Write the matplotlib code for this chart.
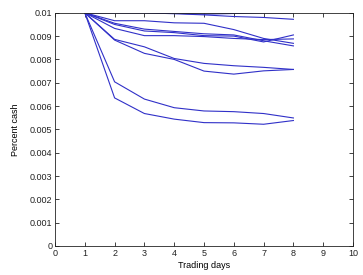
import matplotlib
matplotlib.use("Agg")
import matplotlib.pyplot as plt

days = [1, 2, 3, 4, 5, 6, 7, 8]

series_a = [0.0100, 0.0100, 0.0100, 0.00998, 0.00994, 0.00997, 0.0100, 0.0100]
series_b = [0.0100, 0.0100, 0.0100, 0.00996, 0.00991, 0.00984, 0.00980, 0.00972]
series_c = [0.0100, 0.00966, 0.00966, 0.00957, 0.00955, 0.00928, 0.00890, 0.00869]
series_d = [0.0100, 0.00955, 0.00930, 0.00920, 0.00910, 0.00905, 0.00880, 0.00858]
series_e = [0.0100, 0.00950, 0.00922, 0.00915, 0.00902, 0.00900, 0.00875, 0.00905]
series_f = [0.0100, 0.00933, 0.00902, 0.00902, 0.00898, 0.00890, 0.00885, 0.00888]
series_g = [0.0100, 0.00886, 0.00854, 0.00804, 0.00783, 0.00773, 0.00766, 0.00757]
series_h = [0.0100, 0.00883, 0.00826, 0.00800, 0.00750, 0.00737, 0.00751, 0.00757]
series_i = [0.0100, 0.00704, 0.00630, 0.00593, 0.00579, 0.00576, 0.00568, 0.00549]
series_j = [0.0100, 0.00635, 0.00568, 0.00544, 0.00529, 0.00528, 0.00522, 0.00538]

all_series = [series_a, series_b, series_c, series_d, series_e,
              series_f, series_g, series_h, series_i, series_j]

x_ticks = [0, 1, 2, 3, 4, 5, 6, 7, 8, 9, 10]
y_ticks = [0, 0.001, 0.002, 0.003, 0.004, 0.005, 0.006, 0.007, 0.008, 0.009, 0.01]
y_tick_labels = ["0", "0.001", "0.002", "0.003", "0.004", "0.005",
                 "0.006", "0.007", "0.008", "0.009", "0.01"]

plt.rcParams['font.family'] = ['Liberation Sans', 'DejaVu Sans']

fig = plt.figure(figsize=(3.63, 2.75), dpi=100)
ax = fig.add_axes([0.1515, 0.1055, 0.821, 0.848])

for s in all_series:
    ax.plot(days, s, color='#3030c8', linewidth=0.8)

ax.set_xlim(0, 10)
ax.set_ylim(0, 0.01)
ax.set_xticks(x_ticks)
ax.set_xticklabels([str(t) for t in x_ticks])
ax.set_yticks(y_ticks)
ax.set_yticklabels(y_tick_labels)
ax.tick_params(direction='in', top=True, right=True, length=3, width=0.6,
               labelsize=6.5, colors='#222222', pad=2)
for sp in ax.spines.values():
    sp.set_linewidth(0.6)
    sp.set_color('#222222')
ax.set_xlabel('Trading days', fontsize=6.5, labelpad=2)
ax.set_ylabel('Percent cash', fontsize=6.5, labelpad=7)

fig.savefig('out.png', dpi=100, facecolor='white')
